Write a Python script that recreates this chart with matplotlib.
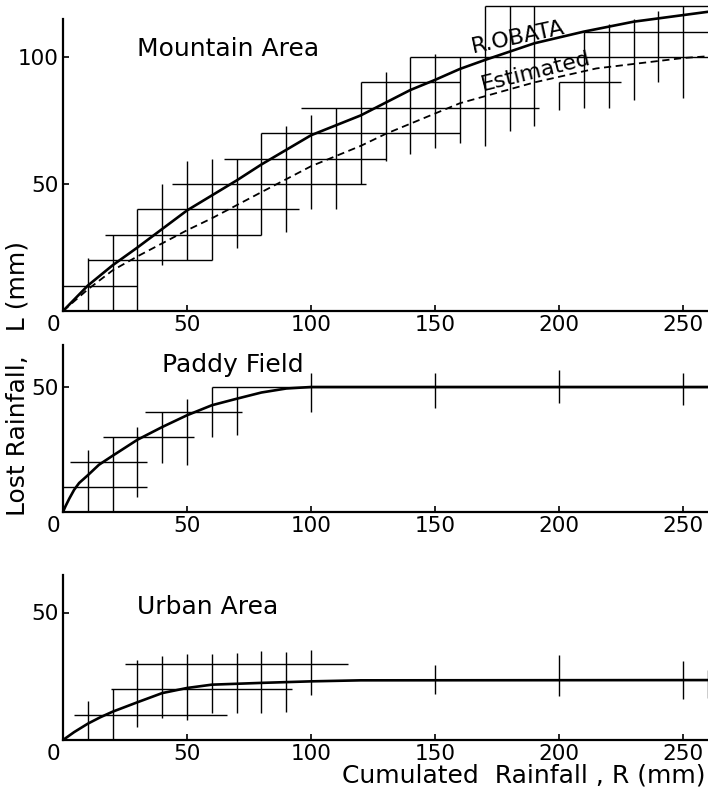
import matplotlib.pyplot as plt

# ---- Mountain Area ----
mtn_vx = [10, 20, 30, 40, 50, 60, 70, 80, 90, 100, 110, 120, 130, 140, 150, 160, 170, 180, 190, 200, 210, 220, 230, 240, 250]
mtn_vlo = [0, 0, 0, 18, 20, 20, 25, 30, 31, 40, 40, 50, 59, 62, 64, 66, 65, 71, 73, 79, 80, 80, 83, 90, 84]
mtn_vhi = [21, 30, 40, 50, 59, 60, 60, 70, 73, 77, 80, 90, 94, 100, 101, 100, 120, 120, 120, 90, 110, 113, 115, 118, 120]
mtn_hy = [10, 20, 30, 40, 50, 60, 70, 80, 90, 90, 100, 110, 120]
mtn_hlo = [0, 10, 17, 30, 44, 65, 80, 96, 120, 200, 140, 210, 170]
mtn_hhi = [30, 60, 80, 95, 122, 130, 160, 192, 160, 225, 260, 260, 260]

obata_r = [0, 10, 20, 30, 50, 70, 80, 100, 120, 140, 150, 160, 170, 190, 210, 230, 250, 260]
obata_l = [0, 10, 18, 25, 39.6, 51.4, 57.7, 69.2, 77, 87, 91, 95.3, 98.8, 105.4, 110, 113.9, 116.5, 117.8]
est_r = [0, 10, 20, 30, 50, 60, 80, 100, 120, 130, 160, 190, 215, 250, 260]
est_l = [0, 8.5, 16, 21.5, 31.8, 36.5, 46.8, 57, 65, 69.7, 81.8, 90, 95.5, 99.6, 100.3]

# ---- Paddy Field ----
pad_vx = [10, 20, 30, 40, 50, 60, 70, 100, 150, 200, 250]
pad_vlo = [0, 0, 6, 19.6, 18.7, 30, 30.7, 40, 41.8, 43.6, 42.9]
pad_vhi = [25, 30, 34, 40, 45, 50, 50, 55.4, 55.4, 56.7, 55.4]
pad_hy = [10, 20, 30, 40, 50]
pad_hlo = [0, 3, 16, 33, 60]
pad_hhi = [34, 34, 53, 72, 260]
pad_r = [0, 1, 2.5, 4.5, 6.5, 10, 14.5, 20, 30, 40, 50, 60, 70, 80, 90, 100, 260]
pad_l = [0, 2.3, 5.3, 8.9, 11.6, 14.7, 18.9, 22.5, 28.9, 34, 38.7, 42.7, 45.3, 47.8, 49.4, 50, 50]

# ---- Urban Area ----
urb_vx = [10, 20, 30, 40, 50, 60, 70, 80, 90, 100, 150, 200, 250, 260]
urb_vlo = [0, 0, 5.2, 8.5, 7.8, 10.4, 10.4, 10.7, 11.1, 17.6, 18.2, 17.2, 15.9, 16.3]
urb_vhi = [15.2, 20, 31.3, 32.8, 33.6, 33.9, 34.1, 34.8, 34.5, 35.2, 29.6, 33.2, 31, 27.3]
urb_hy = [10, 20, 30]
urb_hlo = [4.4, 19.2, 25]
urb_hhi = [66, 92.3, 115]
urb_r = [0, 4.5, 10, 15, 20, 30, 40, 50, 60, 80, 100, 120, 260]
urb_l = [0, 3.1, 6.4, 8.9, 11.1, 14.8, 18.4, 20.4, 21.7, 22.4, 23, 23.4, 23.5]

xticks = [50, 100, 150, 200, 250]

W, H = 708, 799
fig = plt.figure(figsize=(W / 100, H / 100), dpi=100)


def panel(y_bottom_px, height_px, ymax, yticks, title, title_xy):
    ax = fig.add_axes([63 / W, 1 - y_bottom_px / H, (W - 63) / W, height_px / H])
    ax.set_xlim(0, 260)
    ax.set_ylim(0, ymax)
    for s in ['top', 'right']:
        ax.spines[s].set_visible(False)
    for s in ['left', 'bottom']:
        ax.spines[s].set_linewidth(1.6)
    ax.set_xticks(xticks)
    ax.set_yticks(yticks)
    ax.tick_params(direction='in', length=4, width=1.2, labelsize=15.5, pad=3)
    ax.annotate('0', (0, 0), xytext=(-2, -3), textcoords='offset points',
                ha='right', va='top', fontsize=15.5)
    ax.text(title_xy[0], title_xy[1], title, fontsize=18, va='center', ha='left')
    return ax


def crosses(ax, vx, vlo, vhi, hy, hlo, hhi):
    ax.vlines(vx, vlo, vhi, color='k', lw=1.0)
    ax.hlines(hy, hlo, hhi, color='k', lw=1.0)


ax1 = panel(311, 311, 311 / 2.54, [50, 100], 'Mountain Area', (30, 103))
ax1.spines['left'].set_bounds(0, 115)
crosses(ax1, mtn_vx, mtn_vlo, mtn_vhi, mtn_hy, mtn_hlo, mtn_hhi)
ax1.plot(obata_r, obata_l, color='k', lw=1.9)
ax1.plot(est_r, est_l, color='k', lw=1.3, linestyle=(0, (4, 2.5)))
ax1.text(183.6, 107.8, 'R.OBATA', fontsize=16, rotation=12,
         ha='center', va='center', rotation_mode='anchor')
ax1.text(190.6, 94.2, 'Estimated', fontsize=16, rotation=14,
         ha='center', va='center', rotation_mode='anchor')

ax2 = panel(512, 167, 167 / 2.5, [50], 'Paddy Field', (40, 58.7))
crosses(ax2, pad_vx, pad_vlo, pad_vhi, pad_hy, pad_hlo, pad_hhi)
ax2.plot(pad_r, pad_l, color='k', lw=1.9)

ax3 = panel(740, 165, 165 / 2.55, [50], 'Urban Area', (30, 52))
crosses(ax3, urb_vx, urb_vlo, urb_vhi, urb_hy, urb_hlo, urb_hhi)
ax3.plot(urb_r, urb_l, color='k', lw=1.9)

fig.text(18 / W, 1 - 378 / H, 'Lost Rainfall,   L (mm)', rotation=90,
         fontsize=18, ha='center', va='center')
fig.text(705 / W, 1 - 776 / H, 'Cumulated  Rainfall , R (mm)',
         fontsize=18, ha='right', va='center')

fig.savefig('out.png', dpi=100)
